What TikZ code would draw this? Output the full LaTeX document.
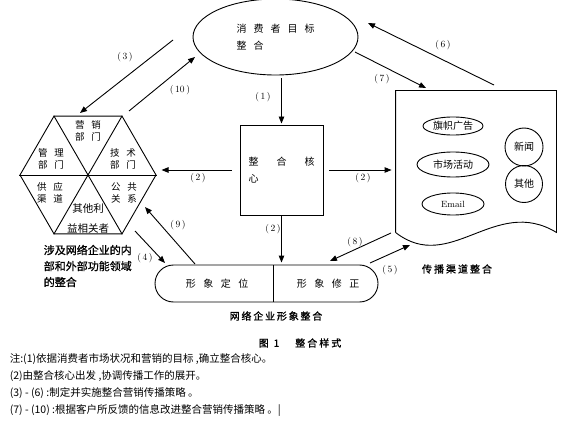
\documentclass[tikz,border=0pt]{standalone}
\usepackage{fontspec}
\newfontfamily\cjk{Noto Sans CJK SC}
\newfontfamily\cjkb[FakeBold=0.9]{Noto Sans CJK SC}
\usetikzlibrary{shapes.geometric,shapes.misc,arrows.meta}
\newcommand{\setgap}[1]{\spaceskip=#1\relax}

\begin{document}
\begin{tikzpicture}[x=1pt,y=-1pt,line width=0.9pt,
    arr/.style={-{Triangle[length=7pt,width=5.5pt]}},
    num/.style={font=\fontsize{9.5}{11}\selectfont},
    word/.style={font={\cjk\fontsize{10}{12}\selectfont\setgap{#1}}},
    part/.style={align=center,font={\cjk\fontsize{9.5}{12}\selectfont\setgap{7pt}}},
    small/.style={font={\cjk\fontsize{10}{12}\selectfont}}]
    \useasboundingbox (0,0) rectangle (567,422);

    % consumer goal
    \node[draw, ellipse, minimum width=165, minimum height=76, inner sep=0, align=left, word=7pt] (goal) at (275.5,37) {消 费 者 目 标\\[5pt]整 合};

    % departments
    \node[draw, regular polygon, regular polygon sides=6, minimum size=136, inner sep=0] (hex) at (88,175) {};
    \draw (hex.corner 1) -- (hex.corner 4);
    \draw (hex.corner 2) -- (hex.corner 5);
    \draw (hex.corner 3) -- (hex.corner 6);
    \node[part] (mkt) at (88,131) {营 销\\部 门};
    \node[part] (mgt) at (51,159) {管 理\\部 门};
    \node[part] (tech) at (123,159) {技 术\\部 门};
    \node[part] (sup) at (50,193) {供 应\\渠 道};
    \node[part] (pr) at (124,193) {公 共\\关 系};
    \node[align=center, font={\cjk\fontsize{10.5}{12.6}\selectfont}] (other) at (88,218.5) {其他利\\[6.5pt]益相关者};
    \node[anchor=west, align=left, font={\cjkb\fontsize{11}{16}\selectfont}] (hexlbl) at (40,266) {涉及网络企业的内\\部和外部功能领域\\的整合};

    % core
    \node[draw, minimum width=83, minimum height=90, align=left, word=18pt] (core) at (281.5,170) {整 合 核\\[5pt]心};

    % channels
    \node[minimum width=160, minimum height=141, inner sep=0] (chan) at (476,161.5) {};
    \draw (chan.south west) -- (chan.north west) -- (chan.north east) -- (chan.south east)
        .. controls (495,195) and (450,275) .. (chan.south west);
    \node[draw, ellipse, minimum width=60, minimum height=18, inner sep=0, small] (flag) at (453,126) {旗帜广告};
    \node[draw, ellipse, minimum width=72, minimum height=25, inner sep=0, small] (event) at (453,164.5) {市场活动};
    \node[draw, ellipse, minimum width=62, minimum height=22, inner sep=0, font=\fontsize{9}{10}\selectfont] (mail) at (453,204) {Email};
    \node[draw, circle, minimum size=38, inner sep=0, small] (news) at (524,147) {新闻};
    \node[draw, circle, minimum size=37, inner sep=0, small] (misc) at (524,184) {其他};
    \node[font={\cjkb\fontsize{10}{12}\selectfont\setgap{2pt}}] (chanlbl) at (457,269) {传 播 渠 道 整 合};

    % image
    \node[draw, rounded rectangle, minimum width=223, minimum height=37, inner sep=0] (img) at (266.5,283.5) {};
    \draw (273,265) -- (273,302);
    \node[word=7.5pt] (pos) at (217,284) {形 象 定 位};
    \node[word=7.5pt] (fix) at (328,284) {形 象 修 正};
    \node[font={\cjkb\fontsize{10}{12}\selectfont\setgap{1.8pt}}] (imglbl) at (276,316) {网 络 企 业 形 象 整 合};

    % arrow ends
    \coordinate (s3) at (173,40);  \coordinate (e3) at (80,113);
    \coordinate (s10) at (129,111); \coordinate (e10) at (195,57);
    \coordinate (s6) at (494,85);  \coordinate (e6) at (368,23);
    \coordinate (s7) at (355,52);  \coordinate (e7) at (426,88);
    \coordinate (s4) at (135,231); \coordinate (e4) at (165,263);
    \coordinate (s9) at (195,264); \coordinate (e9) at (145,207);
    \coordinate (s8) at (391,233); \coordinate (e8) at (330,261);
    \coordinate (s5) at (370,263); \coordinate (e5) at (410,245);

    \draw[arr, shorten <=3pt, shorten >=1pt] (goal.south -| core.north) -- (core.north);
    \draw[arr, shorten <=8pt, shorten >=5pt] (core.west) -- (core.west -| hex.east);
    \draw[arr, shorten <=6pt, shorten >=4pt] (core.east) -- (core.east -| chan.west);
    \draw[arr, shorten >=2pt] (core.south) -- (core.south |- img.north);
    \draw[arr] (s3) -- (e3);
    \draw[arr] (s10) -- (e10);
    \draw[arr] (s6) -- (e6);
    \draw[arr] (s7) -- (e7);
    \draw[arr] (s4) -- (e4);
    \draw[arr] (s9) -- (e9);
    \draw[arr] (s8) -- (e8);
    \draw[arr] (s5) -- (e5);

    \node[num] (n1) at (263,97) {(\,1\,)};
    \node[num] (n2a) at (198,178) {(\,2\,)};
    \node[num] (n2b) at (363,178) {(\,2\,)};
    \node[num] (n2c) at (273,229) {(\,2\,)};
    \node[num] (n3) at (125,57) {(\,3\,)};
    \node[num] (n4) at (145,258) {(\,4\,)};
    \node[num] (n5) at (390,270) {(\,5\,)};
    \node[num] (n6) at (443,45) {(\,6\,)};
    \node[num] (n7) at (382,79) {(\,7\,)};
    \node[num] (n8) at (355,242) {(\,8\,)};
    \node[num] (n9) at (178,225) {(\,9\,)};
    \node[num] (n10) at (180,90) {(\,10\,)};

    % caption and notes
    \node[font={\cjkb\fontsize{10}{12}\selectfont\setgap{2pt}}] (cap) at (300,343) {图\hspace{5pt}1\hspace{16pt}整 合 样 式};
    \node[anchor=west, align=left, font={\cjk\fontsize{10.5}{17}\selectfont}] (notes) at (6,385.5)
        {注:(1)依据消费者市场状况和营销的目标 ,确立整合核心。\\
         (2)由整合核心出发 ,协调传播工作的展开。\\
         (3) - (6) :制定并实施整合营销传播策略 。\\
         (7) - (10) :根据客户所反馈的信息改进整合营销传播策略 。|};
\end{tikzpicture}
\end{document}
